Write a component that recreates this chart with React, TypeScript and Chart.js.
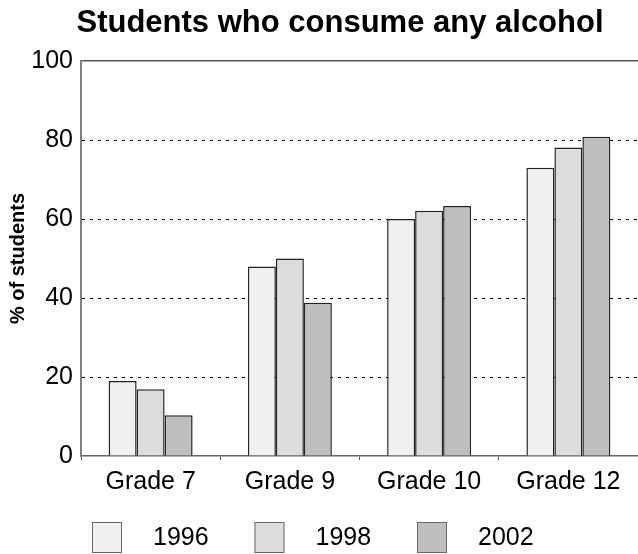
import React, { useEffect, useRef } from "react";
import { Chart, registerables } from "chart.js";

Chart.register(...registerables);

const chartTitle = "Students who consume any alcohol";
const grades = ["Grade 7", "Grade 9", "Grade 10", "Grade 12"];
const years = ["1996", "1998", "2002"];
const values1996 = [19, 48, 60, 73];
const values1998 = [16.9, 50, 62.1, 78.1];
const values2002 = [10.3, 38.8, 63.3, 80.8];
const yTicks = [0, 20, 40, 60, 80, 100];
const fills = ["#f0f0f0", "#dcdcdc", "#bebebe"];

const FONT = "'Liberation Sans', Arial, Helvetica, sans-serif";

// Heading centred over the full figure width.
const heading = {
  id: "heading",
  afterDraw(chart: any) {
    const { ctx } = chart;
    ctx.save();
    ctx.fillStyle = "#000";
    ctx.font = `bold 31px ${FONT}`;
    ctx.textAlign = "center";
    ctx.textBaseline = "middle";
    ctx.fillText(chartTitle, 340, 23);
    ctx.restore();
  },
};

// Square swatches with the year written well to their right, below the axis labels.
const swatchLegend = {
  id: "swatchLegend",
  afterDraw(chart: any) {
    const { ctx } = chart;
    const area = chart.chartArea;
    const top = chart.height - 32;
    ctx.save();
    chart.data.datasets.forEach((ds: any, i: number) => {
      const x = area.left + 11 + i * 162.5;
      ctx.fillStyle = ds.backgroundColor;
      ctx.fillRect(x, top, 30, 31);
      ctx.strokeStyle = "#666";
      ctx.lineWidth = 1;
      ctx.strokeRect(x + 0.5, top + 0.5, 29, 30);
      ctx.fillStyle = "#000";
      ctx.font = `25px ${FONT}`;
      ctx.textBaseline = "middle";
      ctx.textAlign = "left";
      ctx.fillText(ds.label, x + 61, top + 16);
    });
    ctx.restore();
  },
};

export default function App() {
  const ref = useRef<HTMLCanvasElement | null>(null);

  useEffect(() => {
    if (!ref.current) return;
    const chart = new Chart(ref.current, {
      type: "bar",
      data: {
        labels: grades,
        datasets: [values1996, values1998, values2002].map((vals, i) => ({
          label: years[i],
          data: vals,
          backgroundColor: fills[i],
          borderColor: "#222",
          borderWidth: 1.5,
          categoryPercentage: 0.603,
          barPercentage: 1,
        })),
      },
      options: {
        responsive: false,
        animation: false,
        layout: { padding: { top: 61, right: 42, bottom: 50, left: 0 } },
        plugins: {
          legend: { display: false },
          tooltip: { enabled: false },
          title: { display: false },
        },
        scales: {
          x: {
            position: "bottom",
            grid: {
              offset: true,
              drawOnChartArea: false,
              drawTicks: true,
              tickLength: 4,
              color: "#555",
            },
            border: { display: true, color: "#666", width: 1.5 },
            ticks: {
              color: "#000",
              font: { family: FONT, size: 25 },
              padding: 7,
              maxRotation: 0,
            },
          },
          xTop: {
            type: "category",
            position: "top",
            grid: { display: false, drawTicks: false },
            ticks: { display: false },
            border: { display: true, color: "#555", width: 1.5 },
          },
          y: {
            min: 0,
            max: 100,
            afterBuildTicks: (scale: any) => {
              scale.ticks = yTicks.map((v) => ({ value: v }));
            },
            afterFit: (scale: any) => {
              scale.width = 81;
            },
            grid: {
              drawTicks: false,
              lineWidth: 1,
              color: (c: any) =>
                c.tick && c.tick.value > 0 && c.tick.value < 100 ? "#000" : "rgba(0,0,0,0)",
            },
            border: { display: true, color: "#808080", width: 2, dash: [3, 5] },
            ticks: {
              color: "#000",
              font: { family: FONT, size: 25 },
              padding: 8,
            },
            title: {
              display: true,
              text: "% of students",
              color: "#000",
              font: { family: FONT, size: 20, weight: "bold" },
              padding: { top: 6, bottom: 0 },
            },
          },
        },
      },
      plugins: [heading, swatchLegend],
    });
    return () => chart.destroy();
  }, []);

  return (
    <div
      style={{
        position: "absolute",
        left: 0,
        top: 0,
        width: 638,
        height: 554,
        overflow: "hidden",
        background: "#fff",
      }}
    >
      <canvas ref={ref} width={680} height={554} style={{ display: "block" }} />
    </div>
  );
}
